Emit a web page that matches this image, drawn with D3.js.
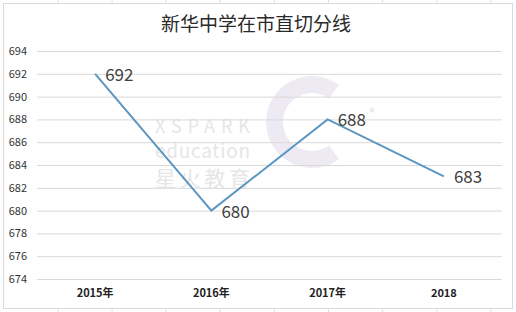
<!DOCTYPE html>
<html>
<head>
<meta charset="utf-8">
<script src="https://cdn.jsdelivr.net/npm/d3@7"></script>
<style>
    body { margin: 0; background: #fff; }
    text { font-family: "Noto Sans CJK SC", "Noto Sans", sans-serif; }
</style>
</head>
<body>
<div class="canvas"></div>
<script>
const years = ['2015年', '2016年', '2017年', '2018'];
const scores = [692, 680, 688, 683];
const yTicks = [674, 676, 678, 680, 682, 684, 686, 688, 690, 692, 694];

const width = 516, height = 312;
const plotL = 37, plotR = 502, plotT = 51, plotB = 279;

const svg = d3.select('.canvas')
    .append('svg')
    .attr('width', width)
    .attr('height', height);

// spreadsheet cell lines behind the chart
const cols = d3.range(58, 516, 54.1);
svg.selectAll('.cell')
    .data(cols)
    .enter()
    .append('line')
    .attr('x1', d => d).attr('x2', d => d)
    .attr('y1', 0).attr('y2', height)
    .attr('stroke', '#e2e2e2');

// chart box
svg.append('rect')
    .attr('x', 3.5).attr('y', 3.5)
    .attr('width', 509).attr('height', 305)
    .attr('fill', '#fff')
    .attr('stroke', '#d9d9d9');

const xScale = d3.scaleBand()
    .domain(years)
    .range([plotL, plotR]);

const yScale = d3.scaleLinear()
    .domain([674, 694])
    .range([plotB, plotT]);

// watermark
const wm = svg.append('g');
wm.append('path')
    .attr('transform', 'translate(312,122)')
    .attr('d', d3.arc().innerRadius(29).outerRadius(46).startAngle(Math.PI * 0.8).endAngle(Math.PI * 2.2))
    .attr('fill', '#eeeaf3');
wm.append('circle').attr('cx', 372).attr('cy', 110).attr('r', 2.5).attr('fill', '#eeeaf3');
wm.append('text').attr('x', 155).attr('y', 133).attr('font-size', 18)
    .attr('fill', '#e6e6e6').attr('textLength', 95).text('XSPARK');
wm.append('text').attr('x', 155).attr('y', 158).attr('font-size', 19)
    .attr('fill', '#e6e6e6').attr('textLength', 95).text('education');
wm.append('text').attr('x', 155).attr('y', 186).attr('font-size', 21)
    .attr('fill', '#e6e6e6').attr('textLength', 95).text('星火教育');

// gridlines
const yAxis = d3.axisLeft(yScale).tickValues(yTicks).tickSize(-(plotR - plotL)).tickPadding(10);
svg.append('g')
    .attr('transform', `translate(${plotL}, 0)`)
    .call(yAxis)
    .call(g => g.select('.domain').remove())
    .call(g => g.selectAll('line').attr('stroke', '#d9d9d9'))
    .call(g => g.selectAll('text')
        .attr('font-size', 11)
        .attr('fill', '#333')
        .attr('font-family', 'Liberation Sans, sans-serif'));

// x axis labels
const xAxis = d3.axisBottom(xScale).tickSize(0).tickPadding(10);
svg.append('g')
    .attr('transform', `translate(0, ${plotB})`)
    .call(xAxis)
    .call(g => g.select('.domain').remove())
    .call(g => g.selectAll('text')
        .attr('font-size', 11)
        .attr('font-weight', 'bold')
        .attr('fill', '#222'));

// title
svg.append('text')
    .attr('x', 256)
    .attr('y', 31)
    .attr('text-anchor', 'middle')
    .attr('font-size', 19)
    .attr('fill', '#2a2a2a')
    .text('新华中学在市直切分线');

// line
const line = d3.line()
    .x((d, i) => xScale(years[i]) + xScale.bandwidth() / 2)
    .y(d => yScale(d));

svg.append('path')
    .datum(scores)
    .attr('d', line)
    .attr('fill', 'none')
    .attr('stroke', '#5a97c2')
    .attr('stroke-width', 2);

// value labels
svg.selectAll('.lbl')
    .data(scores)
    .enter()
    .append('text')
    .attr('x', (d, i) => xScale(years[i]) + xScale.bandwidth() / 2 + 10)
    .attr('y', d => yScale(d) + 7)
    .attr('font-size', 17)
    .attr('fill', '#404040')
    .attr('font-family', 'Open Sans, sans-serif')
    .text(d => d);
</script>
</body>
</html>
